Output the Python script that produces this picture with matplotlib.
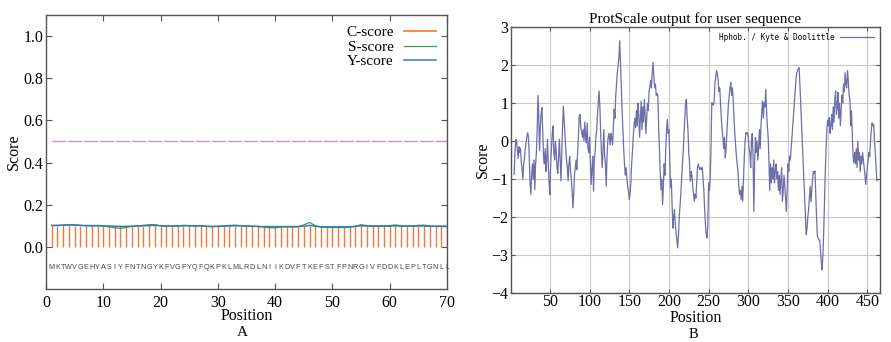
import numpy as np
import matplotlib.pyplot as plt

# ---- panel A data (SignalP) ----
sequence = "MKTWVGEHYASIYFNTNGYKFVGFYQFQKPKLMLRDLNIIKDVFTKEFSTFPNRGIVFDDKLEPLTGNLL"
c_score = [0.101, 0.101, 0.102, 0.102, 0.101, 0.101, 0.100, 0.101, 0.100, 0.101,
           0.100, 0.100, 0.099, 0.100, 0.100, 0.101, 0.101, 0.102, 0.102, 0.100,
           0.100, 0.099, 0.099, 0.100, 0.100, 0.100, 0.100, 0.099, 0.099, 0.099,
           0.099, 0.100, 0.100, 0.099, 0.099, 0.099, 0.098, 0.098, 0.098, 0.098,
           0.098, 0.098, 0.098, 0.098, 0.099, 0.100, 0.098, 0.097, 0.097, 0.097,
           0.097, 0.097, 0.097, 0.098, 0.099, 0.099, 0.099, 0.099, 0.099, 0.099,
           0.100, 0.099, 0.099, 0.099, 0.099, 0.099, 0.099, 0.098, 0.098, 0.098]
s_score = [0.100, 0.101, 0.103, 0.105, 0.104, 0.102, 0.100, 0.099, 0.100, 0.098,
           0.095, 0.090, 0.088, 0.092, 0.097, 0.099, 0.102, 0.105, 0.106, 0.099,
           0.097, 0.098, 0.100, 0.102, 0.101, 0.099, 0.100, 0.097, 0.095, 0.098,
           0.100, 0.102, 0.103, 0.101, 0.099, 0.098, 0.097, 0.093, 0.091, 0.090,
           0.094, 0.095, 0.094, 0.096, 0.104, 0.116, 0.101, 0.093, 0.092, 0.092,
           0.092, 0.092, 0.093, 0.098, 0.105, 0.101, 0.100, 0.100, 0.099, 0.101,
           0.104, 0.100, 0.099, 0.100, 0.102, 0.103, 0.099, 0.098, 0.099, 0.098]
y_score = [0.102, 0.102, 0.103, 0.104, 0.103, 0.102, 0.101, 0.101, 0.101, 0.100,
           0.099, 0.098, 0.097, 0.097, 0.098, 0.099, 0.100, 0.101, 0.102, 0.100,
           0.099, 0.099, 0.099, 0.100, 0.100, 0.099, 0.099, 0.098, 0.097, 0.097,
           0.098, 0.099, 0.100, 0.099, 0.098, 0.098, 0.097, 0.096, 0.096, 0.096,
           0.096, 0.096, 0.096, 0.096, 0.098, 0.102, 0.098, 0.095, 0.095, 0.095,
           0.095, 0.095, 0.095, 0.097, 0.100, 0.099, 0.098, 0.098, 0.098, 0.098,
           0.100, 0.098, 0.098, 0.098, 0.099, 0.099, 0.098, 0.097, 0.097, 0.097]
cutoff = 0.5

# ---- panel B data (ProtScale, Kyte & Doolittle), first window centre at 5 ----
hydro_start = 5
hydro = [
    -0.88, -0.30, 0.04, 0.02, -0.25, -0.45, -0.15, -0.30, -0.20, -0.55,
    -0.75, -1.00, -0.60, -0.45, -0.20, -0.05, 0.10, 0.22, 0.10, -0.40,
    -1.10, -1.40, -0.90, -0.60, -1.00, -0.50, -1.28, -0.60, -0.30, 0.30,
    1.20, 0.60, -0.25, 0.40, 0.75, 0.88, 0.20, -0.40, -0.60, -0.20,
    -0.80, -0.50, 0.05, -0.60, -1.10, -1.41, -0.60, -0.20, 0.20, 0.40,
    -0.30, -0.50, 0.00, -0.30, -0.70, -0.85, -0.40, 0.05, -0.50, -1.05,
    -0.30, 0.40, 0.92, 0.55, 0.20, -0.20, -0.50, -0.70, -1.05, -0.60,
    -0.40, -0.80, -1.00, -1.30, -1.76, -1.40, -0.90, -0.70, -0.50, -0.75,
    -0.30, 0.20, 0.65, 0.70, 0.35, 0.25, 0.10, 0.30, 0.00, 0.50,
    0.10, -0.05, 0.48, -0.20, -0.30, 0.10, -0.60, -1.14, -0.70, -0.40,
    -1.32, -0.50, -0.30, 0.10, 0.30, 0.70, 1.00, 1.32, 0.90, 0.20,
    -0.30, -0.70, -0.20, 0.30, -0.40, -0.60, -1.19, -0.40, 0.00, 0.20,
    0.10, -0.10, 0.20, 0.10, -0.10, 0.40, 0.84, 0.60, 1.20, 1.50,
    1.80, 2.00, 2.20, 2.64, 2.00, 1.40, 0.80, 0.30, -0.20, -0.60,
    -0.90, -0.70, -0.97, -1.20, -1.30, -1.54, -1.40, -1.10, -0.60, -0.30,
    0.10, 0.40, 0.60, 0.35, 0.80, 0.40, 1.00, 0.70, 0.10, 0.60,
    1.05, 0.30, 0.90, 0.50, 1.10, 0.70, 0.20, 0.60, 1.00, 0.80,
    1.30, 1.45, 1.60, 1.40, 1.80, 2.07, 1.70, 1.40, 1.50, 1.20,
    1.25, 1.20, 0.40, -0.20, -0.80, -1.28, -1.00, -1.67, -1.20, -0.60,
    -0.90, -0.20, 0.30, 0.57, 0.20, 0.30, -0.40, -1.23, -1.00, -1.70,
    -2.29, -2.00, -1.80, -2.20, -2.40, -2.60, -2.81, -2.50, -2.00, -1.70,
    -1.40, -1.00, -0.60, -0.30, 0.20, 0.60, 1.00, 1.10, 0.60, 0.30,
    -0.30, -0.60, -1.05, -0.80, -0.90, -1.20, -1.40, -1.58, -1.40, -1.50,
    -1.10, -0.70, -0.60, -0.70, -0.75, -0.70, -0.75, -0.70, -1.00, -1.30,
    -1.80, -2.20, -2.46, -2.55, -2.20, -1.10, -1.30, -1.00, -0.20, 1.01,
    0.97, 0.95, 1.05, 1.50, 1.70, 1.85, 1.78, 1.60, 1.30, 1.40,
    1.00, 0.60, 0.30, 0.10, -0.20, 0.10, -0.44, -0.20, 0.20, 0.60,
    1.00, 1.20, 1.40, 1.54, 1.20, 1.40, 1.10, 0.60, 0.20, -0.10,
    -0.40, -0.60, -0.80, -1.20, -1.40, -1.30, -1.54, -1.20, -1.58, -1.00,
    -0.40, 0.00, 0.22, 0.20, 0.22, 0.10, -0.20, -0.30, -0.70, 0.00,
    0.20, -0.40, -1.85, -0.60, 0.10, -0.30, 0.00, -0.50, -0.20, 0.30,
    -0.20, 0.40, 0.80, 1.05, 0.60, 1.00, 0.90, 1.36, 0.80, 0.40,
    0.10, -0.50, -1.30, -0.60, -1.10, -0.70, -1.00, -0.50, -1.10, -0.80,
    -0.60, -1.00, -0.80, -1.30, -0.90, -1.40, -1.00, -0.70, -1.58, -1.30,
    -0.90, -1.20, -1.50, -1.85, -1.20, -0.60, -0.80, -0.40, -0.50, -0.20,
    0.10, 0.40, 0.70, 1.00, 1.30, 1.60, 1.80, 1.85, 1.90, 1.93,
    1.50, 1.00, 0.50, 0.00, -0.50, -1.00, -1.50, -2.00, -2.46, -2.30,
    -2.00, -1.80, -1.50, -1.19, -1.60, -1.30, -1.00, -0.80, -0.85, -0.79,
    -1.40, -2.00, -2.50, -2.55, -2.60, -2.60, -2.90, -3.20, -3.39, -3.00,
    -2.40, -1.60, -0.80, -0.20, 0.30, 0.55, 0.40, 0.62, 0.20, 0.40,
    0.70, 0.30, 0.90, 0.50, 1.10, 1.32, 0.70, 0.90, 1.28, 0.60,
    1.00, 0.40, 0.80, 1.20, 1.00, 1.50, 1.30, 1.80, 1.50, 1.40,
    1.85, 1.60, 1.20, 1.10, 0.40, 0.80, 0.20, -0.40, -0.57, -0.30,
    -0.60, -0.20, -0.70, 0.00, -0.50, -0.30, -0.80, -0.40, -0.60, -0.30,
    -0.50, -0.70, -0.90, -1.14, -0.90, -0.70, -0.50, -0.30, -0.40, 0.00,
    0.30, 0.48, 0.40, 0.44, 0.00, -0.30, -0.70, -1.05,
]

serif = "Liberation Serif"
frame_col = "#555555"

fig = plt.figure(figsize=(8.91, 3.42), dpi=100)

# ================= panel A =================
axA = fig.add_axes([0.0516, 0.155, 0.4501, 0.801])
pos = np.arange(1, len(sequence) + 1)
axA.vlines(pos, 0, c_score, color="#f07a3a", linewidth=1.0, zorder=2)
axA.plot([], [], color="#f07a3a", linewidth=1.2, label="C-score")
axA.plot(pos, s_score, color="#3f9a55", linewidth=0.9, label="S-score", zorder=3)
axA.plot(pos, y_score, color="#2d7fb5", linewidth=1.1, label="Y-score", zorder=4)
axA.plot([1, 70], [cutoff, cutoff], color="#c890c8", linewidth=1.0,
         dashes=(10, 1.5), zorder=1)
for i, ch in enumerate(sequence):
    axA.text(pos[i], -0.1, ch, ha="center", va="center", fontsize=5.2,
             family="Liberation Sans", color="#444444")

axA.set_xlim(0, 70)
axA.set_ylim(-0.2, 1.1)
axA.set_xticks(np.arange(0, 71, 10))
axA.set_yticks(np.arange(0, 1.01, 0.2))
axA.set_yticklabels(["%.1f" % v for v in np.arange(0, 1.01, 0.2)])
axA.tick_params(direction="in", top=True, right=True, length=4, width=0.8,
                color=frame_col, labelsize=11.5, pad=2)
axA.tick_params(axis="x", pad=4)
for lab in axA.get_xticklabels() + axA.get_yticklabels():
    lab.set_family(serif)
for sp in axA.spines.values():
    sp.set_color(frame_col)
    sp.set_linewidth(1.0)
axA.set_xlabel("Position", family=serif, fontsize=11.5, labelpad=-2)
axA.set_ylabel("Score", family=serif, fontsize=11.5, labelpad=1)
axA.legend(loc="upper right", frameon=False, markerfirst=False,
           prop={"family": serif, "size": 11}, handlelength=2.1,
           labelspacing=0.05, borderaxespad=0.3, handletextpad=0.7)
fig.text(242 / 891, 1 - 333 / 342, "A", family=serif, fontsize=11,
         ha="center", va="center")

# ================= panel B =================
axB = fig.add_axes([0.5735, 0.143, 0.4142, 0.778])
hpos = np.arange(hydro_start, hydro_start + len(hydro))
axB.plot(hpos, hydro, color="#6e6eaa", linewidth=0.9,
         label="Hphob. / Kyte & Doolittle")
axB.set_xlim(1, 466)
axB.set_ylim(-4, 3)
axB.set_xticks(np.arange(50, 451, 50))
axB.set_yticks(np.arange(-4, 4, 1))
axB.set_yticklabels([("\u2212%d" % -v) if v < 0 else "%d" % v
                     for v in range(-4, 4)])
axB.grid(True, color="#c8c8c8", linewidth=0.8)
axB.set_axisbelow(True)
axB.tick_params(direction="in", top=True, right=True, length=3, width=0.8,
                color=frame_col, labelsize=11.5, pad=2)
axB.tick_params(axis="x", pad=1)
for lab in axB.get_xticklabels() + axB.get_yticklabels():
    lab.set_family(serif)
for sp in axB.spines.values():
    sp.set_color(frame_col)
    sp.set_linewidth(1.0)
axB.set_xlabel("Position", family=serif, fontsize=11.5, labelpad=0)
axB.set_ylabel("Score", family=serif, fontsize=11.5, labelpad=0)
axB.set_title("ProtScale output for user sequence", family=serif,
              fontsize=11, pad=3)
axB.legend(loc="upper right", frameon=False, markerfirst=False,
           prop={"family": "DejaVu Sans Mono", "size": 5.5},
           handlelength=4.5, borderaxespad=0.4, handletextpad=0.6)
fig.text(693 / 891, 1 - 335 / 342, "B", family=serif, fontsize=10.5,
         ha="center", va="center")

fig.savefig("out.png", dpi=100)
